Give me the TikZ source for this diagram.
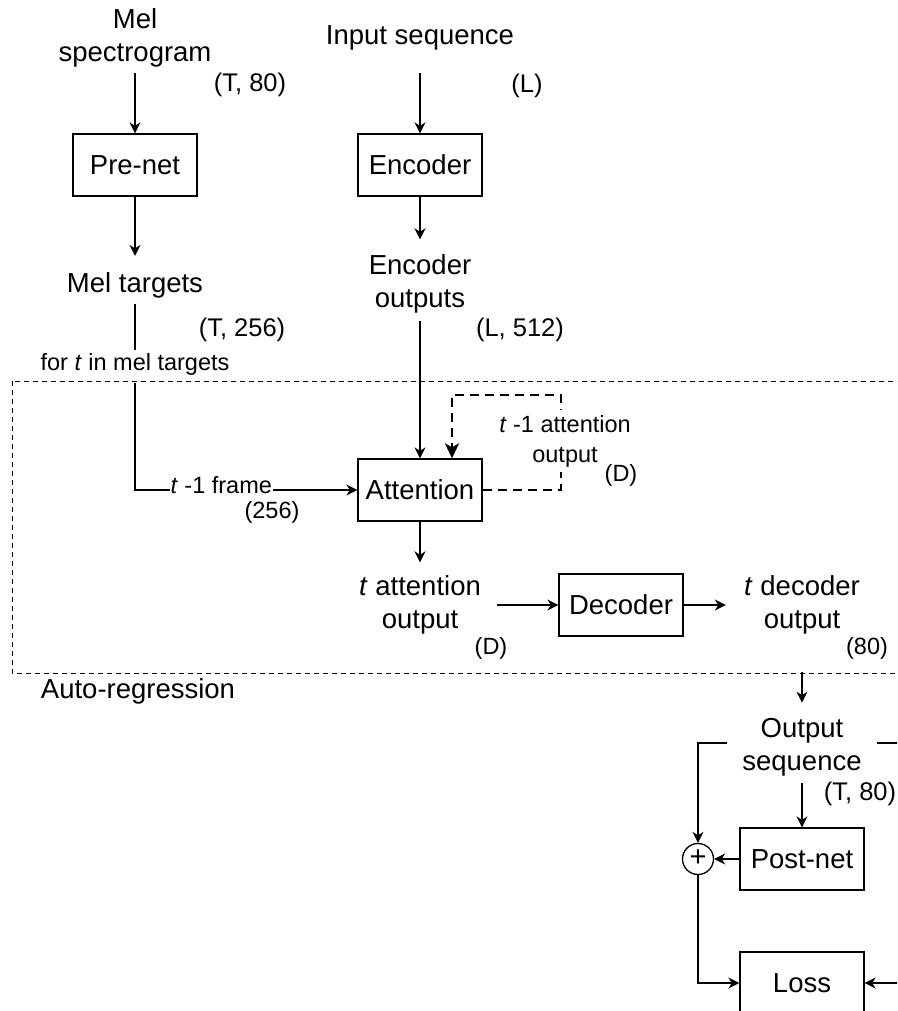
\documentclass[tikz,border=0pt]{standalone}
\usepackage{fontspec}
\setmainfont{Liberation Sans}
\usetikzlibrary{arrows.meta}
\newcommand\lblfont{\fontsize{27.5}{33.5}\selectfont}
\newcommand\dimfont{\fontsize{25.5}{31}\selectfont}
\newcommand\smlfont{\fontsize{23.5}{30}\selectfont}
\begin{document}
\begin{tikzpicture}[x=1pt,y=-1pt,
  line width=1.3pt,
  box/.style={draw, line width=1.3pt, minimum width=124pt, minimum height=62pt, inner sep=0pt, font=\lblfont},
  txt/.style={font=\lblfont, align=center, inner sep=0pt},
  dimtxt/.style={font=\dimfont, inner sep=0pt, anchor=base},
  smltxt/.style={font=\smlfont, inner sep=0pt, anchor=base},
  arr/.style={-{Stealth[length=11pt,width=11pt,inset=3.5pt]}},
  fb/.style={line width=2.8pt, dash pattern=on 9pt off 6pt,
    -{Stealth[length=15pt,width=14pt,inset=4pt]}},
  region/.style={line width=1pt, dash pattern=on 5pt off 4pt}]
\useasboundingbox (0,0) rectangle (897,1011);
\clip (0,0) rectangle (897,1011);

% ---- encoder / pre-net columns
\node[txt] (melspec) at (135,38) {Mel\\spectrogram};
\node[dimtxt] (t80) at (250,92) {(T, 80)};
\node[box] (prenet) at (135,165) {Pre-net};
\node[txt, anchor=base] (mt) at (135,292) {Mel targets};
\node[dimtxt] (t256) at (242,336) {(T, 256)};
\node[smltxt] (forlbl) at (135,370) {for \textit{t} in mel targets};

\node[txt, anchor=base] (inseq) at (420,45) {Input sequence};
\node[dimtxt] (ldim) at (527,93) {(L)};
\node[box] (encoder) at (420,165) {Encoder};
\node[txt] (encout) at (420,284) {Encoder\\outputs};
\node[dimtxt] (l512) at (520,336) {(L, 512)};

% ---- auto-regressive loop
\draw[region] (12,381) rectangle (930,673);
\node[txt, anchor=base] (autoreg) at (138,698) {Auto-regression};

\node[box] (attn) at (420,490) {Attention};
\node[smltxt] (f256) at (272,518) {(256)};

% feedback of the previous attention output
\draw[fb] (attn.east) -- (561,490) -- (561,395) -- (452,395) -- ([xshift=32pt]attn.north);
\node[font=\smlfont, align=center, fill=white, inner xsep=1pt, inner ysep=5pt] (prevatt) at (565,441) {\textit{t} -1 attention\\output};
\node[smltxt] (dprev) at (621,481) {(D)};

\node[txt] (tatt) at (420,605) {\textit{t} attention\\output};
\node[smltxt] (datt) at (491,654) {(D)};
\node[box] (decoder) at (621,605) {Decoder};
\node[txt] (tdec) at (802,605) {\textit{t} decoder\\output};
\node[smltxt] (d80) at (867,654) {(80)};

% ---- post-processing
\node[txt] (outseq) at (802,747) {Output\\sequence};
\node[dimtxt] (t80b) at (860,800) {(T, 80)};
\node[box] (postnet) at (802,859) {Post-net};
\node[draw, circle, line width=1.3pt, minimum size=31pt, inner sep=0pt,
  font=\fontsize{29}{29}\selectfont] (plus) at (698,859) {\raisebox{1pt}{+}};
\node[box] (loss) at (802,983) {Loss};
\coordinate (rgt) at (912,743);

% ---- connectors
\draw[arr, shorten <=5pt] (melspec) -- (prenet);
\draw[arr, shorten >=15.5pt] (prenet) -- (mt);
\draw[shorten <=5.3pt, shorten >=2pt] (mt.south) -- (forlbl.north);
\draw[arr, shorten <=7pt] (forlbl.south) |- (attn.west)
  node[pos=0.694, fill=white, font=\smlfont, inner xsep=1pt, inner ysep=2pt, yshift=4.5pt] (frame) {\textit{t} -1 frame};

\draw[arr, shorten <=22pt] (inseq.south) -- (encoder);
\draw[arr, shorten >=14.5pt] (encoder) -- (encout);
\draw[arr, shorten <=6.3pt] (encout) -- (attn);

\draw[arr, shorten >=12.5pt] (attn) -- (tatt);
\draw[arr, shorten <=15.5pt] (tatt) -- (decoder);
\draw[arr, shorten >=17.7pt] (decoder) -- (tdec);

\draw[arr, shorten <=37pt, shorten >=14.5pt] (tdec) -- (outseq);
\draw[arr, shorten <=6.3pt] (outseq) -- (postnet);
\draw[arr, shorten <=15pt] ([yshift=4pt]outseq.west) -| (plus.north);
\draw[arr] (postnet) -- (plus);
\draw[arr] (plus) |- (loss);
\draw[shorten <=15pt] ([yshift=4pt]outseq.east) -- (rgt);
\draw[arr] (rgt) |- (loss.east);
\end{tikzpicture}
\end{document}
